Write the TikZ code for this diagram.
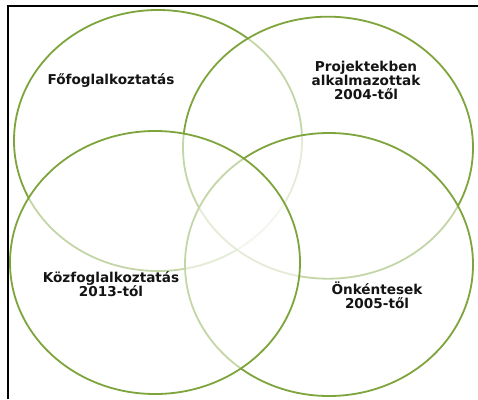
\documentclass[tikz,border=0pt]{standalone}
\usepackage{fontspec}
\setmainfont{DejaVu Sans}
\usetikzlibrary{shapes.geometric}
\definecolor{ringgreen}{RGB}{126,164,60}
\definecolor{labeltext}{RGB}{20,20,20}
\begin{document}
\begin{tikzpicture}[x=1pt,y=-1pt,
  ring/.style={ellipse, draw=ringgreen, line width=1.8pt, fill=white, fill opacity=0.55, draw opacity=1, inner sep=0pt, outer sep=0pt},
  lbl/.style={text=labeltext, font=\fontsize{13.6}{14.2}\selectfont\bfseries, align=center, inner sep=0pt}]
\useasboundingbox (0,0) rectangle (478,399);
\fill[white] (0,0) rectangle (478,399);
% frame (top and left edges visible)
\draw[line width=2pt, line join=miter] (8,399) -- (8,6) -- (478,6);
% sets, drawn in stacking order
\node[ring, minimum width=288pt, minimum height=261pt] (fo) at (158,140.5) {};
\node[ring, minimum width=290pt, minimum height=262pt] (proj) at (328,147.7) {};
\node[ring, minimum width=288pt, minimum height=263pt] (onk) at (329,264.5) {};
\node[ring, minimum width=290pt, minimum height=263pt] (koz) at (155,262.5) {};
% labels
\node[lbl, anchor=base] (tfo) at (111,84) {Főfoglalkoztatás};
\node[lbl] (tproj) at (366,80.5) {Projektekben\\alkalmazottak\\2004-től};
\node[lbl] (tkoz) at (111,284.5) {Közfoglalkoztatás\\2013-tól};
\node[lbl] (tonk) at (377,295) {Önkéntesek\\2005-től};
\end{tikzpicture}
\end{document}
